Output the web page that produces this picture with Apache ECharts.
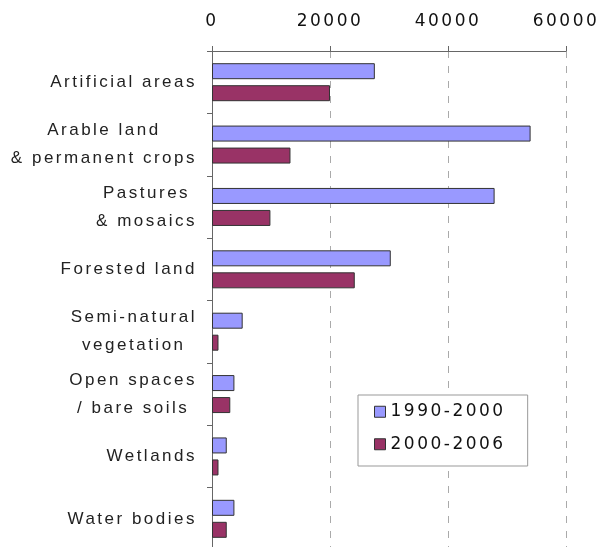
<!DOCTYPE html>
<html>
<head>
<meta charset="utf-8">
<script src="https://cdn.jsdelivr.net/npm/echarts@6/dist/echarts.min.js"></script>
<style>
  html, body { margin: 0; padding: 0; background: #fff; }
  #main { width: 602px; height: 547px; }
</style>
</head>
<body>
<div id="main"></div>
<script>
// land cover categories (top to bottom)
var categories = [
    'Artificial areas',
    'Arable land\n& permanent crops',
    'Pastures\n& mosaics',
    'Forested land',
    'Semi-natural\nvegetation',
    'Open spaces\n/ bare soils',
    'Wetlands',
    'Water bodies'
];
var seriesNames = ['1990-2000', '2000-2006'];
var values1990 = [27600, 54000, 47900, 30300, 5200, 3800, 2500, 3800];
var values2000 = [20000, 13300, 9900, 24200, 1100, 3100, 1100, 2500];
var xTicks = [0, 20000, 40000, 60000];

// the original text is set wide, canvas letterSpacing gives that look
var LETTER_SPACING = '2.5px';
['fillText', 'measureText'].forEach(function (name) {
    var orig = CanvasRenderingContext2D.prototype[name];
    CanvasRenderingContext2D.prototype[name] = function () {
        this.letterSpacing = LETTER_SPACING;
        return orig.apply(this, arguments);
    };
});

var chart = echarts.init(document.getElementById('main'));

var barBorder = {borderColor: '#333', borderWidth: 1};

var option = {
    animation: false,
    grid: {left: 212, top: 51, right: 36, height: 499, outerBoundsMode: 'none'},
    legend: {
        orient: 'vertical',
        left: 358,
        top: 395,
        data: seriesNames,
        itemWidth: 11,
        itemHeight: 11,
        itemGap: 13,
        icon: 'rect',
        padding: [7, 22, 12, 16],
        borderColor: '#999',
        borderWidth: 1,
        backgroundColor: '#fff',
        itemStyle: barBorder,
        textStyle: {fontFamily: 'DejaVu Sans', fontSize: 17, color: '#111'}
    },
    xAxis: {
        type: 'value',
        position: 'top',
        min: xTicks[0],
        max: xTicks[xTicks.length - 1],
        interval: xTicks[1] - xTicks[0],
        axisLine: {show: true, lineStyle: {color: '#666', width: 1}},
        axisTick: {show: true, length: 5, lineStyle: {color: '#666'}},
        axisLabel: {
            margin: 20,
            fontFamily: 'DejaVu Sans',
            fontSize: 17,
            color: '#111',
            formatter: function (v) { return String(v); }
        },
        splitLine: {show: true, lineStyle: {color: '#aaa', type: [7, 8]}}
    },
    yAxis: {
        type: 'category',
        inverse: true,
        data: categories,
        axisLine: {show: true, lineStyle: {color: '#666', width: 1}},
        axisTick: {show: true, length: 5, lineStyle: {color: '#666'}},
        axisLabel: {
            margin: 15,
            fontFamily: 'Liberation Sans',
            fontSize: 17,
            color: '#222',
            lineHeight: 28,
            formatter: function (v) {
                // lines of a label are centred on each other
                return v.split('\n').map(function (s) { return '{c|' + s + '}'; }).join('\n');
            },
            rich: {
                c: {align: 'center', fontFamily: 'Liberation Sans', fontSize: 17, color: '#222', lineHeight: 28}
            }
        }
    },
    series: [
        {
            name: seriesNames[0],
            type: 'bar',
            data: values1990,
            barWidth: 16,
            barGap: '37.5%',
            itemStyle: {color: '#9999ff', borderColor: '#333', borderWidth: 1}
        },
        {
            name: seriesNames[1],
            type: 'bar',
            data: values2000,
            barWidth: 16,
            itemStyle: {color: '#993366', borderColor: '#333', borderWidth: 1}
        }
    ]
};

chart.setOption(option);
</script>
</body>
</html>
